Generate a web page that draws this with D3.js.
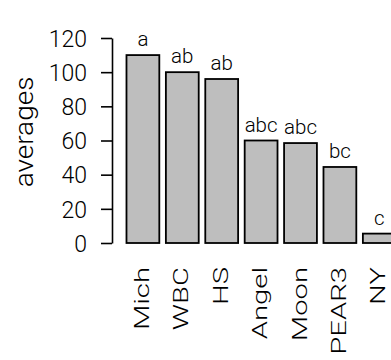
<!DOCTYPE html>
<html>
  <head>
  <style>
    body, html {
      margin: 0;
      background: #fff;
    }
    text {
      font-family: Roboto, "Liberation Sans", Arial, sans-serif;
      font-weight: 300;
      fill: #000;
    }
  </style>
  </head>
  <body>
    <svg id="svg" width="391" height="360"></svg>
  <script src="https://cdn.jsdelivr.net/npm/d3@7"></script>
  <script>
    const names = ["Mich", "WBC", "HS", "Angel", "Moon", "PEAR3", "NY"]
    const averages = [110, 100, 96, 60, 58.5, 44.5, 5.5]
    const groups = ["a", "ab", "ab", "abc", "abc", "bc", "c"]
    const yTicks = [0, 20, 40, 60, 80, 100, 120]

    const data = names.map((n, i) => ({ name: n, value: averages[i], group: groups[i] }))

    const svg = d3.select('#svg')

    // R barplot: width 1, space 0.2
    const xScale = d3.scaleBand()
      .domain(names)
      .range([123.2, 399])
      .paddingInner(1 / 6)
      .paddingOuter(1 / 12)

    const yScale = d3.scaleLinear()
      .domain([0, 120])
      .range([243, 38])

    svg.selectAll(".bar")
      .data(data)
      .enter().append("rect")
      .attr("class", "bar")
      .attr("x", d => xScale(d.name))
      .attr("y", d => yScale(d.value))
      .attr("width", xScale.bandwidth())
      .attr("height", d => yScale(0) - yScale(d.value))
      .attr("fill", "#bebebe")
      .attr("stroke", "#000")
      .attr("stroke-width", 1.8)

    // letters above the bars
    svg.selectAll(".grp")
      .data(data)
      .enter().append("text")
      .attr("class", "grp")
      .attr("x", d => xScale(d.name) + xScale.bandwidth() / 2)
      .attr("y", d => yScale(d.value) - 9)
      .attr("text-anchor", "middle")
      .style("font-size", "20.5px")
      .text(d => d.group)

    // y axis
    const yAxis = svg.append("g")
      .attr("class", "y-axis")
      .attr("transform", "translate(112, 0)")
      .call(d3.axisLeft(yScale).tickValues(yTicks).tickSize(11).tickSizeOuter(0).tickPadding(14))
    yAxis.selectAll("path, line")
      .attr("stroke", "#000")
      .attr("stroke-width", 1.6)
    yAxis.selectAll("text")
      .style("font-size", "23px")
      .attr("dy", "0.36em")

    // category labels, perpendicular to the axis
    svg.selectAll(".name")
      .data(data)
      .enter().append("text")
      .attr("class", "name")
      .attr("text-anchor", "end")
      .attr("transform", d => `translate(${xScale(d.name) + xScale.bandwidth() / 2 + 6}, 267) rotate(-90) scale(1.5, 1)`)
      .style("font-size", "19.5px")
      .text(d => d.name)

    svg.append("text")
      .attr("text-anchor", "middle")
      .attr("transform", "translate(33, 132) rotate(-90) scale(1.12, 1)")
      .style("font-size", "25px")
      .text("averages")
  </script>
  </body>
</html>
